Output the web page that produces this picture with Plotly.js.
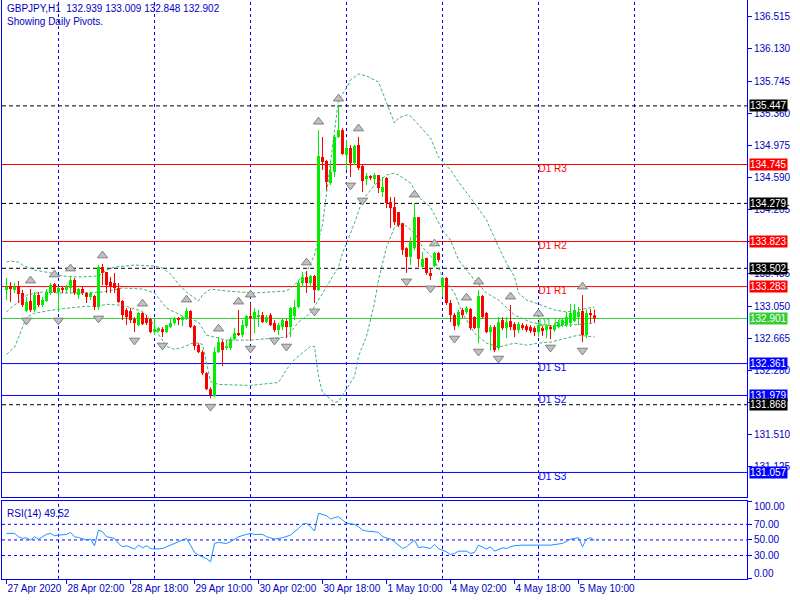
<!DOCTYPE html>
<html><head><meta charset="utf-8">
<script src="https://cdn.plot.ly/plotly-3.0.1.min.js"></script>
<style>html,body{margin:0;padding:0;background:#fff}#chart{width:800px;height:600px}</style>
</head><body><div id="chart"></div>
<script>
const symbolTitle = 'GBPJPY,H1';
const subTitle = 'Showing Daily Pivots.';
const opens = [133.242,133.290,133.242,133.278,133.206,132.990,133.110,133.002,133.182,133.062,
133.110,133.206,133.314,133.218,133.266,133.242,133.266,133.362,133.182,133.254,
133.206,133.158,133.170,133.038,133.518,133.458,133.338,133.326,133.266,133.110,
133.002,132.990,132.894,132.822,132.966,132.906,132.894,132.738,132.750,132.774,
132.738,132.798,132.846,132.906,132.882,132.906,132.990,132.810,132.582,132.498,
132.246,132.054,131.970,132.498,132.618,132.546,132.546,132.654,132.726,132.702,
132.810,132.930,132.906,132.918,132.942,132.858,132.942,132.846,132.762,132.798,
132.870,132.798,132.930,133.038,133.326,133.398,133.326,133.410,133.242,134.835,
134.787,134.523,134.655,135.075,135.157,134.859,134.943,134.763,134.979,134.727,
134.571,134.607,134.571,134.619,134.415,134.583,134.295,134.235,134.175,134.043,
133.743,133.638,133.743,134.115,133.518,133.626,133.446,133.530,133.686,133.278,
133.386,133.086,132.942,132.822,133.002,132.978,133.014,132.918,132.786,133.170,
132.966,132.738,132.798,132.546,132.882,132.786,132.870,132.834,132.762,132.822,
132.810,132.798,132.786,132.738,132.786,132.762,132.798,132.762,132.798,132.822,
132.822,132.846,132.870,132.918,132.990,132.702,132.966,132.939];
const highs = [133.386,133.338,133.326,133.350,133.242,133.158,133.254,133.218,133.218,133.158,
133.254,133.326,133.326,133.278,133.278,133.302,133.398,133.386,133.266,133.278,
133.218,133.218,133.182,133.542,133.554,133.458,133.398,133.446,133.326,133.122,
133.026,133.026,132.918,132.978,132.978,132.942,132.906,132.894,132.798,132.798,
132.822,132.906,132.918,132.918,132.930,133.026,133.002,132.822,132.606,132.522,
132.258,132.078,132.558,132.678,132.642,132.642,132.678,132.786,133.002,132.882,
132.942,133.086,133.026,133.002,132.978,132.942,132.966,132.882,132.846,132.894,
132.894,133.038,133.122,133.362,133.458,133.470,133.422,133.422,135.157,135.075,
134.799,134.775,135.099,135.433,135.181,135.039,134.979,134.979,135.075,134.739,
134.643,134.619,134.643,134.619,134.595,134.595,134.355,134.355,134.175,134.043,
133.755,133.875,134.283,134.115,133.698,133.626,133.494,133.698,133.698,133.398,
133.398,133.122,132.966,133.002,133.026,133.050,133.026,132.930,133.242,133.182,
132.978,132.822,132.822,132.918,132.918,132.918,133.062,132.858,132.858,132.846,
132.834,132.822,132.810,132.858,132.810,132.834,132.822,132.846,132.882,132.906,
132.978,133.074,133.074,133.038,133.182,133.014,133.014,133.009];
const lows = [133.122,133.098,133.206,133.086,133.038,132.978,132.978,132.978,133.038,133.038,
133.098,133.182,133.206,132.978,133.206,133.206,133.206,133.182,133.134,133.182,
133.086,133.122,133.002,133.002,133.302,133.206,133.206,133.206,133.086,132.882,
132.822,132.846,132.738,132.810,132.822,132.822,132.726,132.702,132.738,132.678,
132.726,132.786,132.822,132.822,132.810,132.882,132.786,132.522,132.486,132.222,
132.042,131.946,131.958,132.486,132.330,132.522,132.522,132.642,132.690,132.678,
132.786,132.642,132.726,132.798,132.846,132.846,132.810,132.738,132.702,132.762,
132.666,132.678,132.882,133.026,133.278,133.206,133.278,133.086,133.230,134.679,
134.439,134.499,134.595,135.063,134.859,134.679,134.595,134.739,134.679,134.415,
134.499,134.559,134.511,134.403,134.355,134.223,133.983,134.019,133.995,133.662,
133.446,133.542,133.719,133.518,133.518,133.422,133.362,133.518,133.578,133.158,
133.062,132.858,132.762,132.798,132.906,132.954,132.762,132.774,132.606,132.906,
132.726,132.522,132.498,132.522,132.762,132.666,132.762,132.678,132.726,132.762,
132.738,132.726,132.690,132.678,132.690,132.666,132.654,132.738,132.786,132.798,
132.798,132.798,132.858,132.822,132.618,132.666,132.846,132.848];
const closes = [133.278,133.254,133.278,133.194,133.062,133.098,133.002,133.182,133.062,133.122,
133.218,133.302,133.218,133.266,133.242,133.278,133.362,133.206,133.254,133.206,
133.158,133.206,133.038,133.518,133.446,133.302,133.278,133.266,133.098,132.942,
132.918,132.882,132.846,132.966,132.834,132.846,132.738,132.774,132.786,132.738,
132.822,132.846,132.906,132.882,132.918,132.990,132.798,132.570,132.498,132.246,
132.054,131.982,132.498,132.618,132.522,132.570,132.654,132.726,132.702,132.822,
132.930,132.906,132.978,132.942,132.858,132.918,132.822,132.762,132.822,132.882,
132.798,133.026,133.038,133.326,133.398,133.326,133.410,133.242,134.847,134.775,
134.535,134.655,135.075,135.157,134.871,134.943,134.763,134.967,134.703,134.547,
134.607,134.583,134.619,134.463,134.475,134.283,134.223,134.055,134.019,133.722,
133.638,133.815,134.115,133.614,133.614,133.446,133.410,133.686,133.602,133.386,
133.086,132.942,132.810,132.978,132.942,133.026,132.786,132.786,133.170,132.918,
132.738,132.798,132.522,132.858,132.786,132.858,132.798,132.762,132.834,132.786,
132.762,132.750,132.738,132.822,132.750,132.810,132.774,132.822,132.846,132.882,
132.918,132.966,133.002,132.978,132.702,132.966,132.942,132.902];

const upperBandBars = [0,1,3,4,7,11,14,18,23,25,27,32,37,39,41,43,45,48,49,51,55,62,70,72,75,77,79,81,83,85,86,88,90,93,94,95,97,98,100,101,103,106,108,111,113,117,120,123,125,127,128,130,133,137,140,143,147];
const upperBand = [133.577,133.589,133.577,133.541,133.481,133.446,133.410,133.398,133.410,133.481,133.517,133.541,133.529,133.505,133.434,133.314,133.218,133.110,133.182,133.254,133.230,133.206,133.230,133.302,133.458,133.661,134.020,134.799,135.517,135.661,135.757,135.829,135.805,135.733,135.613,135.481,135.242,135.302,135.338,135.326,135.218,135.062,134.835,134.679,134.535,134.284,134.080,133.757,133.565,133.398,133.206,133.122,133.074,133.002,132.979,133.002,133.038];
const midBandBars = [0,1,3,5,9,14,19,24,29,34,37,40,44,48,50,53,55,61,66,70,73,76,78,80,83,84,87,89,92,95,97,98,101,103,106,109,111,113,117,120,123,127,131,136,141,147];
const midBand = [132.978,133.026,133.098,133.182,133.218,133.206,133.206,133.218,133.266,133.254,133.206,133.026,132.930,132.858,132.702,132.666,132.642,132.642,132.666,132.678,132.858,132.966,133.122,133.278,133.518,133.685,134.043,134.319,134.499,134.619,134.643,134.619,134.523,134.355,134.235,133.959,133.839,133.602,133.362,133.206,133.122,132.942,132.858,132.810,132.822,132.846];
const lowerBandBars = [0,2,3,4,5,7,11,15,20,23,25,29,34,36,38,40,42,44,47,49,50,51,53,61,68,70,72,76,77,78,79,82,83,85,87,88,90,92,93,95,97,99,102,104,107,109,112,114,117,120,123,127,130,133,136,140,143,147];
const lowerBand = [132.471,132.555,132.675,132.795,132.915,132.963,132.999,133.023,133.047,133.047,133.071,133.059,132.987,132.891,132.711,132.567,132.531,132.555,132.615,132.591,132.351,132.147,132.111,132.099,132.135,132.291,132.411,132.567,132.567,132.207,132.015,131.895,131.907,132.051,132.207,132.447,132.687,133.086,133.362,133.755,133.995,134.043,133.923,133.755,133.599,133.398,133.206,132.966,132.726,132.606,132.558,132.606,132.582,132.606,132.618,132.666,132.702,132.678];

const upFractalBars = [6,12,16,24,34,45,53,58,61,75,78,83,88,102,107,115,118,126,133,144];
const downFractalBars = [5,13,23,32,39,51,61,67,70,77,86,89,100,106,112,118,123,136,144];

const pivotNames = ['D1 R3','D1 R2','D1 R1','D1 PP','D1 S1','D1 S2','D1 S3'];
const pivotValues = [134.745,133.823,133.283,132.901,132.361,131.979,131.057];
const pivotColors = ['#ff0000','#ff0000','#ff0000','#32cd32','#0000ff','#0000ff','#0000ff'];
const extraLevels = [135.447,134.279,133.502,131.868];
const pivotLabelBar = 133;

const priceTicks = [136.515,136.130,135.745,135.360,134.975,134.590,134.205,133.820,133.435,133.050,132.665,132.280,131.895,131.510,131.125];
const hiddenPriceTicks = [133.820,131.895];
const xTickBars = [0,15,31,47,63,79,95,111,127,143];
const xTickText = ['27 Apr 2020','28 Apr 02:00','28 Apr 18:00','29 Apr 10:00','30 Apr 02:00','30 Apr 18:00','1 May 10:00','4 May 02:00','4 May 18:00','5 May 10:00'];
const daySeparatorBars = [13,37,61,85,109,133,157];

const rsiBars = [0,2,3,4,5,6,7,8,9,10,11,12,13,14,15,16,17,18,19,20,21,22,23,24,25,26,27,28,29,30,32,33,34,35,36,37,38,39,40,42,43,44,45,46,47,48,50,51,52,53,55,56,57,58,60,61,62,64,65,66,67,69,70,71,73,74,75,76,77,78,80,81,82,83,84,85,87,88,89,90,92,93,94,96,97,98,99,100,101,102,103,104,106,107,108,110,111,112,113,115,116,117,118,120,121,122,124,125,126,127,129,131,134,136,139,140,141,142,143,144,145,146,147];
const rsiValues = [58.4,58.4,54.1,51.9,52.8,49.8,54.1,50.7,54.1,57.1,58.4,55.4,56.2,56.2,57.0,59.7,54.0,53.2,51.9,49.8,51.1,42.5,62.7,60.5,54.1,53.2,51.9,45.5,41.2,42.5,38.2,43.3,39.9,42.5,39.0,38.2,38.2,39.0,41.2,45.5,47.6,49.8,51.9,43.3,33.9,30.4,26.1,21.8,45.5,46.8,45.5,47.6,51.1,54.1,57.1,58.4,57.1,57.1,54.1,52.8,51.1,52.8,54.1,56.2,64.8,70.0,71.3,67.0,61.4,84.2,81.2,76.9,78.6,79.9,75.6,71.3,70.0,67.0,62.7,61.4,60.5,59.7,54.1,51.1,47.6,43.3,39.0,41.2,45.5,49.8,39.9,41.2,39.0,44.2,39.0,34.7,31.3,32.6,35.6,35.6,32.6,33.9,43.3,38.2,41.2,35.6,39.9,39.0,41.2,42.5,43.3,43.3,42.5,43.3,45.5,48.5,51.1,51.9,52.8,41.2,51.1,52.8,49.52];
const rsiLevels = [30,50,70];

const BULL = '#00ee00', BEAR = '#ff0000', AXIS = '#0000ff', TXT = '#0000c0';
const FONT = 'Liberation Sans, Arial, sans-serif';
const n = opens.length;
const barIndex = opens.map((_, i) => i);
const isUp = barIndex.map(i => closes[i] >= opens[i]);
const bodyBase = barIndex.map(i => Math.min(opens[i], closes[i]));
const bodySize = barIndex.map(i => Math.max(Math.abs(closes[i] - opens[i]), 0.012));
const bodyColor = isUp.map(u => u ? BULL : BEAR);

function wick(up) {
  const x = [], y = [];
  barIndex.forEach(i => { if (isUp[i] === up) { x.push(i, i, null); y.push(lows[i], highs[i], null); } });
  return {type: 'scatter', mode: 'lines', x, y, line: {color: up ? BULL : BEAR, width: 1}, hoverinfo: 'skip', xaxis: 'x', yaxis: 'y'};
}
function band(xs, ys) {
  return {type: 'scatter', mode: 'lines', x: xs, y: ys, line: {color: '#3cb371', width: 1, dash: '3px,2px'}, hoverinfo: 'skip', xaxis: 'x', yaxis: 'y'};
}

const traces = [
  {type: 'scatter', mode: 'text', x: pivotValues.map(() => pivotLabelBar), y: pivotValues, text: pivotNames,
   textposition: 'bottom right', textfont: {family: FONT, size: 10, color: pivotColors}, hoverinfo: 'skip', xaxis: 'x', yaxis: 'y'},
  band(upperBandBars, upperBand), band(midBandBars, midBand), band(lowerBandBars, lowerBand),
  wick(true), wick(false),
  {type: 'bar', x: barIndex, y: bodySize, base: bodyBase, width: 0.75, marker: {color: bodyColor, line: {width: 0}}, hoverinfo: 'skip', xaxis: 'x', yaxis: 'y'},
  {type: 'scatter', mode: 'markers', x: upFractalBars, y: upFractalBars.map(i => highs[i] + 0.1),
   marker: {symbol: 'triangle-up', size: 9, color: '#c0c0c0', line: {color: '#808080', width: 1}}, hoverinfo: 'skip', xaxis: 'x', yaxis: 'y'},
  {type: 'scatter', mode: 'markers', x: downFractalBars, y: downFractalBars.map(i => lows[i] - 0.1),
   marker: {symbol: 'triangle-down', size: 9, color: '#c0c0c0', line: {color: '#808080', width: 1}}, hoverinfo: 'skip', xaxis: 'x', yaxis: 'y'},
  {type: 'scatter', mode: 'lines', x: rsiBars, y: rsiValues, line: {color: '#1e90ff', width: 1}, hoverinfo: 'skip', xaxis: 'x2', yaxis: 'y2'}
];

const shapes = [];
daySeparatorBars.forEach(b => {
  ['y domain', 'y2 domain'].forEach(yr => shapes.push({type: 'line', layer: 'below', xref: 'x', yref: yr, x0: b, x1: b, y0: 0, y1: 1,
    line: {color: AXIS, width: 1, dash: '3px,3px'}}));
});
pivotValues.forEach((v, k) => shapes.push({type: 'line', layer: 'below', xref: 'paper', yref: 'y', x0: 0, x1: 1, y0: v, y1: v,
  line: {color: pivotColors[k], width: 1}}));
extraLevels.forEach(v => shapes.push({type: 'line', layer: 'below', xref: 'paper', yref: 'y', x0: 0, x1: 1, y0: v, y1: v,
  line: {color: '#000000', width: 1, dash: '4px,3px'}}));
rsiLevels.forEach(v => shapes.push({type: 'line', layer: 'below', xref: 'paper', yref: 'y2', x0: 0, x1: 1, y0: v, y1: v,
  line: {color: AXIS, width: 1, dash: '3px,3px'}}));

const annotations = [];
const levelBoxes = pivotValues.map((v, k) => ({v, c: pivotColors[k]})).concat(extraLevels.map(v => ({v, c: '#000000'})));
levelBoxes.forEach(b => annotations.push({xref: 'paper', yref: 'y', x: 1, y: b.v, xanchor: 'left', yanchor: 'middle', xshift: 2,
  text: b.v.toFixed(3), showarrow: false, bgcolor: b.c, borderpad: 0, font: {family: FONT, size: 10, color: '#ffffff'}}));
const last = n - 1;
annotations.push({xref: 'paper', yref: 'paper', x: 0, y: 1, xanchor: 'left', yanchor: 'top', xshift: 3, yshift: -1, showarrow: false,
  text: symbolTitle + '\u00a0\u00a0' + [opens[last], highs[last], lows[last], closes[last]].map(v => v.toFixed(3)).join(' '),
  font: {family: FONT, size: 10, color: TXT}});
annotations.push({xref: 'paper', yref: 'paper', x: 0, y: 1, xanchor: 'left', yanchor: 'top', xshift: 3, yshift: -14, showarrow: false,
  text: subTitle, font: {family: FONT, size: 10, color: TXT}});
annotations.push({xref: 'paper', yref: 'y2 domain', x: 0, y: 1, xanchor: 'left', yanchor: 'top', xshift: 3, yshift: -5, showarrow: false,
  text: 'RSI(14) ' + rsiValues[rsiValues.length - 1].toFixed(2), font: {family: FONT, size: 10, color: TXT}});
annotations.push({xref: 'paper', yref: 'y2', x: 1, y: 100, xanchor: 'left', yanchor: 'middle', xshift: 5, yshift: -5, showarrow: false,
  text: '100.00', font: {family: FONT, size: 10, color: TXT}});
annotations.push({xref: 'paper', yref: 'y2', x: 1, y: 0, xanchor: 'left', yanchor: 'middle', xshift: 5, yshift: 5, showarrow: false,
  text: '0.00', font: {family: FONT, size: 10, color: TXT}});

const xRange = [-1.125, 185.125];
const layout = {
  width: 800, height: 600, margin: {l: 2, r: 53, t: 0, b: 20},
  paper_bgcolor: '#ffffff', plot_bgcolor: '#ffffff', showlegend: false, barmode: 'overlay', hovermode: false, dragmode: false,
  font: {family: FONT, size: 10, color: TXT},
  xaxis: {domain: [0, 1], anchor: 'y', range: xRange, showgrid: false, zeroline: false, showticklabels: false, ticks: '',
    showline: true, mirror: true, linecolor: AXIS, linewidth: 1, automargin: false},
  yaxis: {domain: [0.1431, 1], anchor: 'x', side: 'right', range: [130.763, 136.715], tickmode: 'array', tickvals: priceTicks,
    ticktext: priceTicks.map(v => hiddenPriceTicks.includes(v) ? '' : v.toFixed(3)), ticks: 'outside', ticklen: 4, tickcolor: AXIS, showgrid: false, zeroline: false,
    showline: true, mirror: true, linecolor: AXIS, linewidth: 1, tickfont: {family: FONT, size: 10, color: TXT}, automargin: false},
  xaxis2: {domain: [0, 1], anchor: 'y2', range: xRange, showgrid: false, zeroline: false, tickmode: 'array', tickvals: xTickBars,
    ticktext: xTickText, ticks: 'outside', ticklen: 4, tickcolor: AXIS, ticklabelposition: 'outside right', tickangle: 0,
    showline: true, mirror: true, linecolor: AXIS, linewidth: 1, tickfont: {family: FONT, size: 10, color: TXT}, automargin: false},
  yaxis2: {domain: [0.002, 0.1362], anchor: 'x2', side: 'right', range: [0, 100], tickmode: 'array', tickvals: [0, 30, 50, 70, 100],
    ticktext: ['', '30.00', '50.00', '70.00', ''], ticks: 'outside', ticklen: 4, tickcolor: AXIS, showgrid: false, zeroline: false,
    showline: true, mirror: true, linecolor: AXIS, linewidth: 1, tickfont: {family: FONT, size: 10, color: TXT}, automargin: false},
  shapes, annotations
};
Plotly.newPlot('chart', traces, layout, {staticPlot: true, displayModeBar: false});
</script>
</body></html>
